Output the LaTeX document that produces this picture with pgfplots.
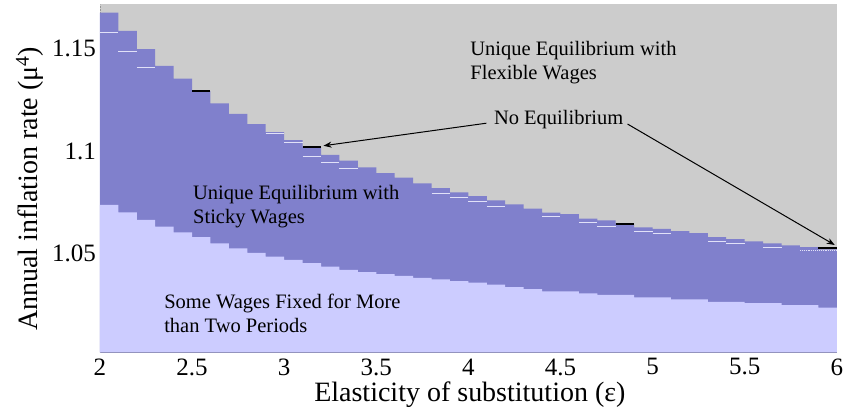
\documentclass[border=0pt]{standalone}
\usepackage{pgfplots}
\pgfplotsset{compat=1.18}
\usepackage{pgfplotstable}
\usepackage{fontspec}
\setmainfont{Liberation Serif}
\usetikzlibrary{arrows.meta}
\definecolor{bggray}{RGB}{204,204,204}
\definecolor{sticky}{RGB}{128,128,204}
\definecolor{fixedc}{RGB}{204,204,255}
\definecolor{thinline}{RGB}{225,225,248}
\definecolor{xaxc}{RGB}{110,110,130}
\definecolor{yaxc}{RGB}{150,150,150}

\pgfplotstableread{
x y
2.0 1.1675
2.1 1.1586
2.2 1.1497
2.3 1.1415
2.4 1.1353
2.5 1.1292
2.6 1.1233
2.7 1.1182
2.8 1.1132
2.9 1.1092
3.0 1.1053
3.1 1.1020
3.2 1.0982
3.3 1.0953
3.4 1.0921
3.5 1.0892
3.6 1.0870
3.7 1.0843
3.8 1.0819
3.9 1.0799
4.0 1.0780
4.1 1.0760
4.2 1.0740
4.3 1.0719
4.4 1.0700
4.5 1.0692
4.6 1.0670
4.7 1.0662
4.8 1.0646
4.9 1.0628
5.0 1.0620
5.1 1.0609
5.2 1.0600
5.3 1.0580
5.4 1.0571
5.5 1.0560
5.6 1.0550
5.7 1.0540
5.8 1.0531
5.9 1.0520
6.0 1.0520
}\upperdata

\pgfplotstableread{
x y
2.0 1.0737
2.1 1.0701
2.2 1.0664
2.3 1.0631
2.4 1.0604
2.5 1.0580
2.6 1.0550
2.7 1.0526
2.8 1.0504
2.9 1.0485
3.0 1.0469
3.1 1.0453
3.2 1.0437
3.3 1.0420
3.4 1.0410
3.5 1.0400
3.6 1.0391
3.7 1.0381
3.8 1.0374
3.9 1.0366
4.0 1.0358
4.1 1.0348
4.2 1.0337
4.3 1.0327
4.4 1.0316
4.5 1.0316
4.6 1.0306
4.7 1.0298
4.8 1.0298
4.9 1.0287
5.0 1.0287
5.1 1.0277
5.2 1.0277
5.3 1.0265
5.4 1.0265
5.5 1.0258
5.6 1.0258
5.7 1.0248
5.8 1.0248
5.9 1.0236
6.0 1.0236
}\lowerdata

\pgfplotstableread{
x y
2.0 1.1578
2.1 1.1578
2.1 nan
2.1 1.1487
2.2 1.1487
2.2 nan
2.2 1.1407
2.3 1.1407
2.3 nan
2.9 1.1085
3.0 1.1085
3.0 nan
3.0 1.1043
3.1 1.1043
3.1 nan
3.1 1.0975
3.2 1.0975
3.2 nan
3.2 1.0943
3.3 1.0943
3.3 nan
3.3 1.0914
3.4 1.0914
3.4 nan
3.8 1.0794
3.9 1.0794
3.9 nan
3.9 1.0773
4.0 1.0773
4.0 nan
4.0 1.0752
4.1 1.0752
4.1 nan
4.1 1.0731
4.2 1.0731
4.2 nan
4.4 1.0682
4.5 1.0682
4.5 nan
4.6 1.0653
4.7 1.0653
4.7 nan
4.7 1.0631
4.8 1.0631
4.8 nan
4.9 1.0610
5.0 1.0610
5.0 nan
5.0 1.0600
5.1 1.0600
5.1 nan
5.3 1.0561
5.4 1.0561
5.4 nan
5.4 1.0550
5.5 1.0550
5.5 nan
5.6 1.0531
5.7 1.0531
}\thindata

\pgfplotstableread{
x y
2.5 1.1292
2.6 1.1292
2.6 nan
3.1 1.1020
3.2 1.1020
3.2 nan
4.8 1.0646
4.9 1.0646
4.9 nan
5.9 1.0526
6.0 1.0526
}\noeqdata

\begin{document}
\begin{tikzpicture}
\begin{axis}[
  scale only axis,
  width=737bp, height=348bp,
  xmin=2, xmax=6, ymin=1.0018, ymax=1.1715,
  xtick={2,2.5,...,6},
  ytick={1.05,1.1,1.15},
  yticklabels={1.05,1.1,1.15},
  xticklabels={2,2.5,3,3.5,4,4.5,5,5.5,6},
  major tick length=0pt,
  axis x line*=bottom, axis y line*=left,
  x axis line style={draw=xaxc, line width=0.8bp},
  y axis line style={draw=yaxc, densely dotted, line width=0.6bp},
  axis background/.style={fill=bggray},
  tick label style={font=\rmfamily\fontsize{25bp}{30bp}\selectfont},
  xticklabel style={inner sep=0pt, yshift=-6bp},
  yticklabel style={inner sep=0pt, xshift=-4bp},
  xlabel={Elasticity of substitution (ε)},
  ylabel={Annual inflation rate (μ\textsuperscript{4})},
  xlabel style={font=\rmfamily\fontsize{28bp}{32bp}\selectfont, at={(axis description cs:0.502,-0.122)}, anchor=center},
  ylabel style={font=\rmfamily\fontsize{28bp}{32bp}\selectfont, at={(axis description cs:-0.095,0.47)}, anchor=center},
  clip=true,
]
\addplot[const plot, fill=sticky, draw=none] table[x=x,y=y] {\upperdata} \closedcycle;
\addplot[const plot, fill=fixedc, draw=none] table[x=x,y=y] {\lowerdata} \closedcycle;
\addplot[unbounded coords=jump, draw=thinline, line width=0.9bp] table[x=x,y=y] {\thindata};
\addplot[draw=thinline, line width=0.9bp, densely dotted] coordinates {(5.8,1.0513) (6.0,1.0513)};
\addplot[unbounded coords=jump, draw=black, line width=2bp] table[x=x,y=y] {\noeqdata};

\draw[-{Stealth[length=8bp,width=6bp]}, line width=1bp] (axis cs:4.098,1.1136) -- (axis cs:3.2136,1.1026);
\draw[-{Stealth[length=8bp,width=6bp]}, line width=1bp] (axis cs:4.864,1.1132) -- (axis cs:5.989,1.0542);

\node[anchor=west, align=left, inner sep=0pt, font=\rmfamily\fontsize{20.5bp}{24.5bp}\selectfont] at (axis cs:4.01,1.1432) {Unique Equilibrium with\\Flexible Wages};
\node[anchor=center, inner sep=0pt, font=\rmfamily\fontsize{20.5bp}{24.5bp}\selectfont] at (axis cs:4.49,1.1155) {No Equilibrium};
\node[anchor=west, align=left, inner sep=0pt, font=\rmfamily\fontsize{20.5bp}{24.5bp}\selectfont] at (axis cs:2.505,1.0730) {Unique Equilibrium with\\Sticky Wages};
\node[anchor=west, align=left, inner sep=0pt, font=\rmfamily\fontsize{20.5bp}{24.5bp}\selectfont] at (axis cs:2.348,1.0208) {Some Wages Fixed for More\\than Two Periods};
\end{axis}
\useasboundingbox (-100bp,-62.5bp) rectangle (743bp,352.5bp);
\end{tikzpicture}
\end{document}
